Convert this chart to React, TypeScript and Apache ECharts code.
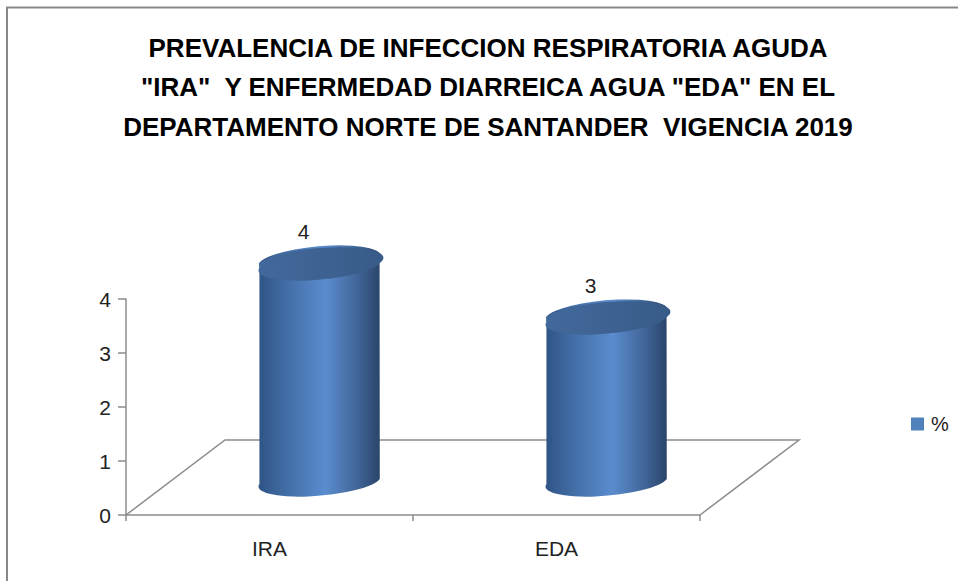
import React, { useEffect, useRef } from "react";
import * as echarts from "echarts";

// Chart content
const categories = ["IRA", "EDA"];
const values = [4, 3];
const seriesName = "%";
const yMin = 0;
const yMax = 4;
const yStep = 1;
const titleLines = [
  "PREVALENCIA DE INFECCION RESPIRATORIA AGUDA",
  "\"IRA\"  Y ENFERMEDAD DIARREICA AGUA \"EDA\" EN EL",
  "DEPARTAMENTO NORTE DE SANTANDER  VIGENCIA 2019",
];

// Pseudo-3D geometry (pixels): depth of the floor and the tilt of the cylinder caps
const FLOOR_DX = 99;
const FLOOR_DY = -75;
const BAR_DX = 50;
const BAR_DY = -36;
const CAP_RY = 14;
const CAP_TILT_DEG = -4.7;
const FONT = '"Liberation Sans", Arial, sans-serif';
const AXIS_GRAY = "#8c8c8c";
const TEXT = "#222";

function cylinderPaths(cx: number, yTop: number, yBase: number, rx: number) {
  const t = (CAP_TILT_DEG * Math.PI) / 180;
  const ox = rx * Math.cos(t);
  const oy = rx * Math.sin(t);
  const lt = [cx - ox, yTop - oy];
  const rt = [cx + ox, yTop + oy];
  const lb = [cx - ox, yBase - oy];
  const rb = [cx + ox, yBase + oy];
  const a = `${rx} ${CAP_RY} ${CAP_TILT_DEG}`;
  const body =
    `M${lt[0]} ${lt[1]} L${lb[0]} ${lb[1]} ` +
    `A${a} 0 0 ${rb[0]} ${rb[1]} L${rt[0]} ${rt[1]} ` +
    `A${a} 0 0 ${lt[0]} ${lt[1]} Z`;
  const cap =
    `M${lt[0]} ${lt[1]} A${a} 0 0 ${rt[0]} ${rt[1]} ` +
    `A${a} 0 0 ${lt[0]} ${lt[1]} Z`;
  return { body, cap };
}

export default function App() {
  const ref = useRef<HTMLDivElement>(null);

  useEffect(() => {
    if (!ref.current) return;
    const chart = echarts.init(ref.current, undefined, { renderer: "svg" });

    const bodyFill = new echarts.graphic.LinearGradient(0, 0, 1, 0, [
      { offset: 0, color: "#2f5485" },
      { offset: 0.25, color: "#4470a9" },
      { offset: 0.55, color: "#5a8cce" },
      { offset: 0.8, color: "#42679a" },
      { offset: 1, color: "#2a446a" },
    ]);
    const capFill = new echarts.graphic.LinearGradient(0, 0, 1, 0, [
      { offset: 0, color: "#43699c" },
      { offset: 1, color: "#385b88" },
    ]);

    const option: any = {
      animation: false,
      backgroundColor: "#ffffff",
      graphic: [
        {
          type: "rect",
          silent: true,
          z: -10,
          shape: { x: 7, y: 7.5, width: 1400, height: 1000 },
          style: { fill: "none", stroke: "#888888", lineWidth: 2 },
        },
        {
          type: "text",
          x: 488,
          y: 28,
          style: {
            text: titleLines.join("\n"),
            font: `bold 26px ${FONT}`,
            fill: "#000",
            align: "center",
            verticalAlign: "top",
            lineHeight: 39.5,
          },
        },
      ],
      legend: {
        left: 911,
        top: 414,
        padding: 0,
        itemWidth: 13,
        itemHeight: 13,
        data: [{ name: seriesName, icon: "rect" }],
        textStyle: { fontFamily: FONT, fontSize: 20, color: TEXT, padding: [0, 0, 0, 2] },
      },
      grid: { left: 126, top: 299, width: 574, height: 216, containLabel: false },
      xAxis: {
        type: "category",
        data: categories,
        boundaryGap: true,
        axisLine: { lineStyle: { color: AXIS_GRAY, width: 1.5 } },
        axisTick: { show: true, alignWithLabel: false, length: 6, lineStyle: { color: AXIS_GRAY, width: 1.5 } },
        axisLabel: { fontFamily: FONT, fontSize: 21, color: TEXT, margin: 23 },
        splitLine: { show: false },
      },
      yAxis: {
        type: "value",
        min: yMin,
        max: yMax,
        interval: yStep,
        axisLine: { show: true, lineStyle: { color: AXIS_GRAY, width: 1.5 } },
        axisTick: { show: true, length: 8, lineStyle: { color: AXIS_GRAY, width: 1.5 } },
        axisLabel: { fontFamily: FONT, fontSize: 21, color: TEXT, margin: 15 },
        splitLine: { show: false },
      },
      series: [
        {
          // floor of the 3D plot area (back and side edges)
          type: "custom",
          name: "floor",
          silent: true,
          z: 1,
          data: [[0]],
          renderItem: (params: any) => {
            const cs = params.coordSys;
            const x0 = cs.x;
            const y0 = cs.y + cs.height;
            const x1 = cs.x + cs.width;
            return {
              type: "polyline",
              shape: {
                points: [
                  [x0, y0],
                  [x0 + FLOOR_DX, y0 + FLOOR_DY],
                  [x1 + FLOOR_DX, y0 + FLOOR_DY],
                  [x1, y0],
                ],
              },
              style: { fill: "none", stroke: AXIS_GRAY, lineWidth: 1.5 },
            };
          },
        },
        {
          type: "custom",
          name: seriesName,
          z: 5,
          itemStyle: { color: "#4f81bd" },
          data: values.map((v, i) => [i, v]),
          encode: { x: 0, y: 1 },
          renderItem: (_params: any, api: any) => {
            const idx = api.value(0);
            const v = api.value(1);
            const base = api.coord([idx, 0]);
            const top = api.coord([idx, v]);
            const band = api.size([1, 0])[0];
            const rx = band * 0.21;
            const cx = base[0] + BAR_DX;
            const yBase = base[1] + BAR_DY;
            const yTop = top[1] + BAR_DY;
            const { body, cap } = cylinderPaths(cx, yTop, yBase, rx);
            return {
              type: "group",
              children: [
                { type: "path", shape: { pathData: body }, style: { fill: bodyFill, stroke: "none" } },
                { type: "path", shape: { pathData: cap }, style: { fill: capFill, stroke: "none" } },
                {
                  type: "text",
                  x: cx - 16,
                  y: yTop - 32,
                  style: {
                    text: String(v),
                    font: `21px ${FONT}`,
                    fill: TEXT,
                    align: "center",
                    verticalAlign: "middle",
                  },
                },
              ],
            };
          },
        },
      ],
    };

    chart.setOption(option);
    return () => chart.dispose();
  }, []);

  return (
    <div
      ref={ref}
      style={{ position: "fixed", left: 0, top: 0, width: 958, height: 581 }}
    />
  );
}
